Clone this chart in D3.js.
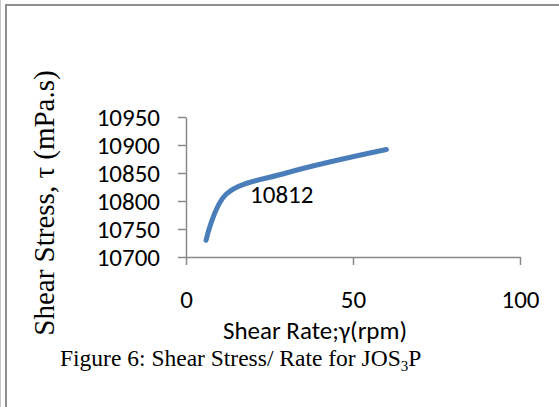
<!DOCTYPE html>
<html>
<head>
<meta charset="utf-8">
<script src="https://cdn.jsdelivr.net/npm/d3@7"></script>
<style>
  body { margin: 0; background: #fff; }
  svg { display: block; }
</style>
</head>
<body>
<div id="chart"></div>
<script>
const width = 559;
const height = 407;

// data (Brookfield speeds)
const shearRate = [6, 12, 30, 60];
const shearStress = [10730, 10812, 10850, 10892];
const labelledValue = 10812;

const xTicks = [0, 50, 100];
const yTicks = [10700, 10750, 10800, 10850, 10900, 10950];

const sansFont = "Calibri, Carlito, 'Open Sans', sans-serif";
const serifFont = "'Times New Roman', 'Liberation Serif', serif";
const axisColor = "#898989";
const lineColor = "#4a7ebb";

const svg = d3.select("#chart")
  .append("svg")
  .attr("width", width)
  .attr("height", height);

// page frame lines
svg.append("line")
  .attr("x1", 0.5).attr("x2", 0.5).attr("y1", 0).attr("y2", height)
  .attr("stroke", "#c8c8c8").attr("stroke-width", 1);
svg.append("line")
  .attr("x1", 6).attr("x2", 6).attr("y1", 4).attr("y2", height)
  .attr("stroke", "#8f8f8f").attr("stroke-width", 2);
svg.append("line")
  .attr("x1", 5).attr("x2", width).attr("y1", 5).attr("y2", 5)
  .attr("stroke", "#8f8f8f").attr("stroke-width", 2);

const xScale = d3.scaleLinear()
  .domain([0, 100])
  .range([186, 520]);

const yScale = d3.scaleLinear()
  .domain([10700, 10950])
  .range([257, 117]);

const xAxis = svg.append("g")
  .attr("transform", `translate(0, ${yScale(10700)})`)
  .call(d3.axisBottom(xScale)
    .tickValues(xTicks)
    .tickSize(8)
    .tickSizeOuter(0)
    .tickPadding(25)
    .tickFormat(d3.format("d")));

const yAxis = svg.append("g")
  .attr("transform", `translate(${xScale(0)}, 0)`)
  .call(d3.axisLeft(yScale)
    .tickValues(yTicks)
    .tickSize(8)
    .tickSizeOuter(0)
    .tickPadding(18)
    .tickFormat(d3.format("d")));

[xAxis, yAxis].forEach(g => {
  g.select(".domain").attr("stroke", axisColor).attr("stroke-width", 1.5);
  g.selectAll(".tick line").attr("stroke", axisColor).attr("stroke-width", 1.5);
  g.selectAll(".tick text")
    .attr("fill", "#000")
    .style("font-family", sansFont)
    .style("font-size", "25px");
});

const points = shearRate.map((x, i) => ({ x: x, y: shearStress[i] }));

const line = d3.line()
  .x(d => xScale(d.x))
  .y(d => yScale(d.y))
  .curve(d3.curveCatmullRom.alpha(0.5));

svg.append("path")
  .datum(points)
  .attr("d", line)
  .attr("fill", "none")
  .attr("stroke", lineColor)
  .attr("stroke-width", 5)
  .attr("stroke-linecap", "round")
  .attr("stroke-linejoin", "round");

// data label
const labelled = points.find(d => d.y === labelledValue);
svg.append("text")
  .attr("x", xScale(labelled.x) + 24)
  .attr("y", yScale(labelled.y))
  .attr("dy", "0.35em")
  .style("font-family", sansFont)
  .style("font-size", "25px")
  .text(labelledValue);

// axis titles
svg.append("text")
  .attr("x", 315)
  .attr("y", 339)
  .attr("text-anchor", "middle")
  .style("font-family", sansFont)
  .style("font-size", "25px")
  .text("Shear Rate;γ(rpm)");

svg.append("text")
  .attr("transform", "translate(54, 203) rotate(-90)")
  .attr("text-anchor", "middle")
  .style("font-family", serifFont)
  .style("font-size", "29px")
  .text("Shear Stress, τ (mPa.s)");

// caption
const caption = svg.append("text")
  .attr("x", 60)
  .attr("y", 366)
  .style("font-family", serifFont)
  .style("font-size", "23.5px");
caption.append("tspan").text("Figure 6: Shear Stress/ Rate for JOS");
caption.append("tspan").attr("dy", 5).style("font-size", "15px").text("3");
caption.append("tspan").attr("dy", -5).text("P");
</script>
</body>
</html>
